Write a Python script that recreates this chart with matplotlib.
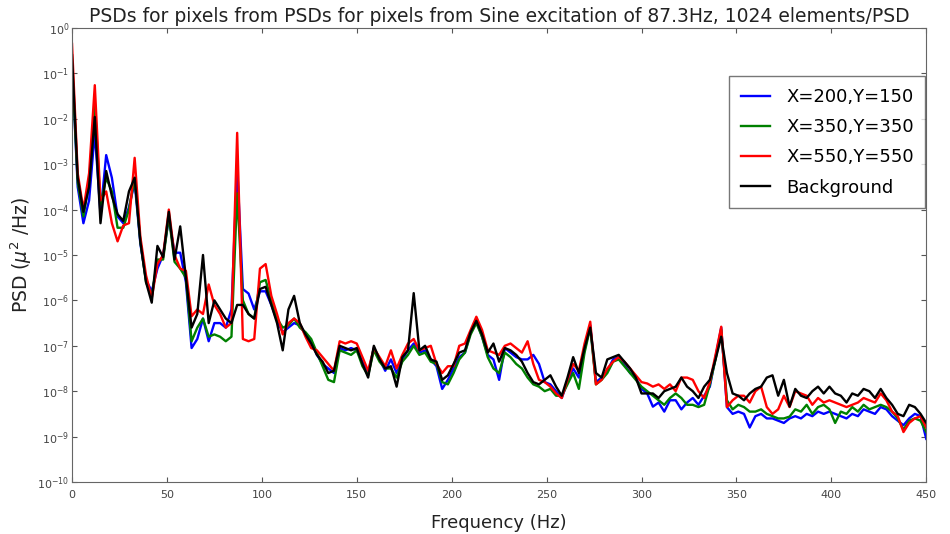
import numpy as np
import matplotlib
matplotlib.use("Agg")
import matplotlib.pyplot as plt

# PSD samples on a 3 Hz grid, stored as log10(PSD)
freq = np.arange(0, 451, 3)

log_bg = [-0.6, -3.3, -4.05, -3.5, -1.96, -4.3, -3.15, -3.7, -4.1, -4.25, -3.6, -3.3, -4.7, -5.6, -6.05, -4.8,
          -5.05, -4.05, -5.1, -4.37, -5.5, -6.6, -6.3, -5.0, -6.5, -6.0, -6.2, -6.4, -6.5, -6.1, -6.1, -6.3,
          -6.4, -5.75, -5.7, -6.1, -6.5, -7.1, -6.2, -5.9, -6.5, -6.75, -6.95, -7.2, -7.35, -7.6, -7.55, -7.0,
          -7.05, -7.1, -7.05, -7.4, -7.7, -7.0, -7.3, -7.5, -7.45, -7.9, -7.25, -7.1, -5.84, -7.1, -7.0, -7.3,
          -7.35, -7.75, -7.65, -7.4, -7.15, -7.1, -6.7, -6.45, -6.75, -7.15, -6.95, -7.35, -7.05, -7.1, -7.2,
          -7.35, -7.6, -7.8, -7.85, -7.75, -7.65, -7.9, -8.1, -7.7, -7.25, -7.6, -7.05, -6.6, -7.6, -7.7, -7.3,
          -7.25, -7.2, -7.35, -7.5, -7.7, -8.05, -8.05, -8.05, -8.15, -8.0, -7.95, -7.9, -7.7, -7.9, -8.0,
          -8.15, -7.9, -7.75, -7.3, -6.8, -7.6, -8.05, -8.1, -8.2, -8.05, -7.95, -7.9, -7.7, -7.65, -8.1,
          -7.75, -8.34, -7.95, -8.1, -8.15, -8.0, -7.9, -8.05, -7.9, -8.05, -8.1, -8.25, -8.05, -8.1, -7.95,
          -8.0, -8.15, -7.95, -8.15, -8.3, -8.5, -8.55, -8.3, -8.35, -8.5, -8.7]

log_p1 = [-0.8, -3.5, -4.3, -3.8, -2.29, -4.1, -2.8, -3.3, -4.15, -4.3, -3.95, -3.4, -4.75, -5.55, -5.8, -5.3,
          -5.0, -4.2, -4.95, -4.95, -5.6, -7.05, -6.85, -6.4, -6.9, -6.5, -6.5, -6.6, -6.2, -3.05, -5.75, -5.85,
          -6.2, -5.8, -5.8, -6.1, -6.45, -6.7, -6.6, -6.5, -6.55, -6.75, -6.9, -7.2, -7.4, -7.5, -7.6, -7.05,
          -7.1, -7.05, -7.1, -7.35, -7.6, -7.05, -7.3, -7.55, -7.3, -7.6, -7.3, -7.1, -6.95, -7.15, -7.1, -7.3,
          -7.45, -7.95, -7.75, -7.5, -7.25, -7.15, -6.7, -6.45, -6.8, -7.2, -7.3, -7.75, -7.05, -7.15, -7.25,
          -7.3, -7.3, -7.2, -7.4, -7.8, -7.85, -8.0, -8.15, -7.8, -7.5, -7.7, -7.1, -6.55, -7.8, -7.7, -7.55,
          -7.3, -7.25, -7.4, -7.6, -7.7, -7.95, -8.05, -8.34, -8.25, -8.45, -8.2, -8.2, -8.4, -8.25, -8.15,
          -8.3, -8.1, -7.9, -7.25, -6.6, -8.35, -8.5, -8.45, -8.5, -8.8, -8.55, -8.5, -8.6, -8.6, -8.65,
          -8.7, -8.6, -8.55, -8.6, -8.5, -8.55, -8.45, -8.5, -8.45, -8.5, -8.55, -8.6, -8.5, -8.55, -8.4,
          -8.45, -8.5, -8.35, -8.4, -8.55, -8.65, -8.75, -8.6, -8.5, -8.55, -9.05]

log_p2 = [-0.8, -3.4, -4.15, -3.4, -1.65, -3.9, -3.3, -3.6, -4.4, -4.4, -4.0, -3.3, -4.7, -5.6, -5.9, -5.1,
          -5.1, -4.15, -5.15, -5.3, -5.5, -6.9, -6.6, -6.4, -6.8, -6.75, -6.8, -6.9, -6.8, -3.64, -6.0, -6.3,
          -6.4, -5.6, -5.55, -6.0, -6.4, -6.6, -6.55, -6.4, -6.6, -6.7, -6.85, -7.15, -7.45, -7.75, -7.8, -7.1,
          -7.15, -7.2, -7.1, -7.45, -7.65, -7.1, -7.35, -7.5, -7.5, -7.7, -7.35, -7.2, -7.0, -7.2, -7.15, -7.35,
          -7.4, -7.8, -7.85, -7.6, -7.3, -7.15, -6.75, -6.5, -6.8, -7.25, -7.5, -7.6, -7.15, -7.25, -7.4,
          -7.5, -7.7, -7.85, -7.9, -8.0, -7.95, -8.1, -8.1, -7.85, -7.6, -7.95, -7.15, -6.6, -7.85, -7.75, -7.6,
          -7.35, -7.3, -7.45, -7.6, -7.75, -7.9, -8.0, -8.1, -8.2, -8.3, -8.15, -8.05, -8.15, -8.3, -8.3,
          -8.35, -8.3, -7.85, -7.3, -6.65, -8.2, -8.4, -8.3, -8.35, -8.45, -8.45, -8.4, -8.5, -8.55, -8.6,
          -8.6, -8.56, -8.4, -8.45, -8.3, -8.5, -8.35, -8.3, -8.4, -8.7, -8.45, -8.5, -8.35, -8.45, -8.3,
          -8.4, -8.35, -8.3, -8.35, -8.45, -8.6, -8.85, -8.65, -8.6, -8.65, -8.9]

log_p3 = [-0.35, -3.2, -4.0, -3.2, -1.26, -3.8, -3.6, -4.3, -4.7, -4.35, -4.3, -2.86, -4.6, -5.45, -5.95, -5.2,
          -5.0, -4.0, -5.0, -5.3, -5.35, -6.35, -6.2, -6.3, -5.65, -6.1, -6.3, -6.6, -6.5, -2.31, -6.85, -6.9,
          -6.85, -5.3, -5.2, -5.9, -6.3, -6.75, -6.5, -6.4, -6.5, -6.8, -7.05, -7.1, -7.25, -7.4, -7.55, -6.9,
          -6.95, -6.9, -6.95, -7.25, -7.55, -7.05, -7.25, -7.45, -7.1, -7.5, -7.2, -6.95, -6.85, -7.1, -7.05, -7.0,
          -7.4, -7.6, -7.45, -7.45, -7.0, -6.95, -6.65, -6.36, -6.65, -7.1, -7.15, -7.2, -7.0, -6.95, -7.05,
          -7.15, -6.9, -7.4, -7.75, -7.8, -7.9, -8.05, -8.15, -7.75, -7.4, -7.55, -6.95, -6.47, -7.85, -7.75, -7.5,
          -7.35, -7.25, -7.35, -7.5, -7.65, -7.8, -7.83, -7.9, -7.85, -7.95, -7.85, -8.0, -7.7, -7.7, -7.75,
          -8.0, -8.15, -7.8, -7.2, -6.58, -8.35, -8.2, -8.1, -8.1, -8.25, -8.0, -7.9, -8.35, -8.5, -8.4,
          -8.1, -8.35, -8.0, -8.05, -8.1, -8.3, -8.15, -8.25, -8.2, -8.25, -8.3, -8.35, -8.3, -8.25, -8.15,
          -8.2, -8.25, -8.05, -8.2, -8.45, -8.55, -8.9, -8.7, -8.6, -8.55, -8.8]

series = [("X=200,Y=150", log_p1, "b"),
          ("X=350,Y=350", log_p2, "g"),
          ("X=550,Y=550", log_p3, "r"),
          ("Background", log_bg, "k")]

plt.rcParams.update({"font.family": "DejaVu Sans", "xtick.direction": "in", "ytick.direction": "in",
                     "xtick.top": True, "ytick.right": True, "xtick.color": "#555555",
                     "ytick.color": "#555555"})

fig = plt.figure(figsize=(9.5, 5.34), dpi=100)
ax = fig.add_axes([0.0758, 0.0974, 0.8992, 0.8502])
for name, vals, col in series:
    ax.semilogy(freq, 10.0 ** np.array(vals), color=col, lw=1.7, label=name)

ax.set_xlim(0, 450)
ax.set_ylim(1e-10, 1e0)
ax.set_xticks(np.arange(0, 451, 50))
ax.set_yticks([10.0 ** k for k in range(-10, 1)])
ax.tick_params(axis="both", labelsize=8, labelcolor="#444444")
ax.tick_params(axis="y", pad=2)
ax.tick_params(axis="x", pad=6)
for s in ax.spines.values():
    s.set_color("#666666")

ax.set_title("PSDs for pixels from PSDs for pixels from Sine excitation of 87.3Hz, 1024 elements/PSD",
             fontsize=13.5, color="#222222", pad=4)
ax.set_xlabel("Frequency (Hz)", fontsize=13, color="#222222", labelpad=10)
ax.set_ylabel(r"PSD ($\mu^2$ /Hz)", fontsize=13.5, color="#222222", labelpad=2)

leg = ax.legend(loc="upper right", bbox_to_anchor=(0.999, 0.894), fontsize=13, labelspacing=0.68,
                handlelength=1.6, handletextpad=0.9, fancybox=False, borderpad=0.65, borderaxespad=0)
leg.get_frame().set_edgecolor("#555555")

fig.savefig("out.png", dpi=100)
